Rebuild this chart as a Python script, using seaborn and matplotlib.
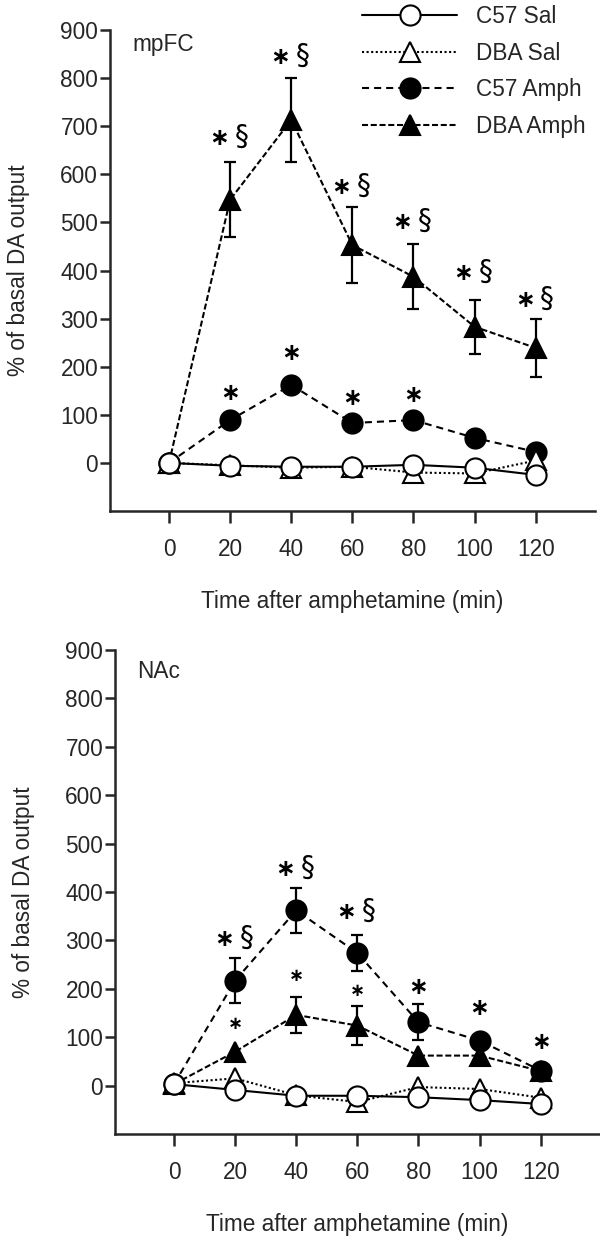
import matplotlib
matplotlib.use("Agg")
import matplotlib.pyplot as plt
import seaborn as sns

# time points (min after amphetamine)
time_min = [0, 20, 40, 60, 80, 100, 120]
groups = ["C57 Sal", "DBA Sal", "C57 Amph", "DBA Amph"]

# mpFC, % of basal DA output
pfc_c57_sal = [0, -6, -8, -8, -4, -10, -25]
pfc_dba_sal = [0, -5, -10, -8, -20, -22, 5]
pfc_c57_amph = [0, 89, 162, 83, 89, 52, 23]
pfc_dba_amph = [0, 547, 713, 453, 387, 283, 239]
pfc_c57_amph_sem = [0, 0, 0, 0, 0, 0, 0]
pfc_dba_amph_sem = [0, 78, 88, 80, 68, 56, 60]

# NAc, % of basal DA output
nac_c57_sal = [3, -9, -21, -21, -24, -30, -38]
nac_dba_sal = [5, 15, -20, -34, -3, -7, -25]
nac_c57_amph = [3, 217, 362, 274, 131, 93, 31]
nac_dba_amph = [3, 70, 146, 124, 62, 62, 30]
nac_c57_amph_sem = [0, 46, 47, 37, 37, 0, 0]
nac_dba_amph_sem = [0, 0, 38, 40, 0, 0, 0]

# significance marks (time, y position, kind)
pfc_marks_t = [20, 40, 60, 80, 100, 120, 20, 40, 60, 80]
pfc_marks_y = [676, 844, 574, 500, 395, 339, 145, 229, 135, 141]
pfc_marks_kind = ["*§"] * 6 + ["*"] * 4

nac_marks_t = [20, 40, 60, 80, 100, 120, 20, 40, 60]
nac_marks_y = [303, 448, 358, 203, 160, 91, 127, 226, 196]
nac_marks_kind = ["*§"] * 3 + ["*"] * 3 + ["s"] * 3

sns.set_style("ticks")
plt.rcParams["font.family"] = ["Liberation Sans", "DejaVu Sans"]
FS = 16.3

styles = {
    "C57 Sal": dict(linestyle="-", marker="o", markerfacecolor="white"),
    "DBA Sal": dict(linestyle=(0, (1, 1.2)), marker="^", markerfacecolor="white"),
    "C57 Amph": dict(linestyle=(0, (3.4, 2.4)), marker="o", markerfacecolor="black"),
    "DBA Amph": dict(linestyle=(0, (2.9, 1.3)), marker="^", markerfacecolor="black"),
}
draw_order = ["DBA Amph", "C57 Amph", "DBA Sal", "C57 Sal"]


def mark(ax, t, y, kind):
    kw = dict(textcoords="offset points", ha="center", va="center",
              family="DejaVu Sans", color="black")
    if kind == "*§":
        ax.annotate("∗", (t, y), xytext=(-8, 0), fontsize=17, fontweight="bold", **kw)
        ax.annotate("§", (t, y), xytext=(8, 1), fontsize=20, **kw)
    elif kind == "*":
        ax.annotate("∗", (t, y), xytext=(0, 0), fontsize=17, fontweight="bold", **kw)
    else:
        ax.annotate("∗", (t, y), xytext=(0, 0), fontsize=13, fontweight="bold", **kw)


def draw_panel(ax, series, sems, marks, title, title_y):
    for name in draw_order:
        sem = sems.get(name)
        if sem is not None:
            xs = [t for t, e in zip(time_min, sem) if e > 0]
            ys = [v for v, e in zip(series[name], sem) if e > 0]
            es = [e for e in sem if e > 0]
            ax.errorbar(xs, ys, yerr=es, fmt="none", ecolor="black",
                        elinewidth=1.6, capsize=4.6, capthick=1.6, zorder=2)
        sns.lineplot(x=time_min, y=series[name], ax=ax, color="black",
                     linewidth=1.5, markersize=14.5, markeredgecolor="black",
                     markeredgewidth=1.5, label=name, zorder=3, **styles[name])
    if ax.get_legend() is not None:
        ax.get_legend().remove()
    for t, y, k in zip(*marks):
        mark(ax, t, y, k)

    ax.set_xlim(-19.3, 139.4)
    ax.set_ylim(-100, 900)
    ax.set_xticks(time_min)
    ax.set_yticks(range(0, 901, 100))
    ax.tick_params(axis="y", length=7, width=1.8, pad=1.5, labelsize=FS)
    ax.tick_params(axis="x", length=8.5, width=1.8, pad=11, labelsize=FS)
    for s in ["top", "right"]:
        ax.spines[s].set_visible(False)
    for s in ["left", "bottom"]:
        ax.spines[s].set_linewidth(1.8)
    ax.set_xlabel("Time after amphetamine (min)", fontsize=FS, labelpad=21)
    ax.set_ylabel("% of basal DA output", fontsize=FS, labelpad=22)
    ax.text(-12, title_y, title, fontsize=FS, ha="left", va="center")


fig = plt.figure(figsize=(6, 12.4), dpi=100)
ax1 = fig.add_axes([110 / 600, 1 - 511 / 1240, 485 / 600, 481 / 1240])
ax2 = fig.add_axes([115 / 600, 1 - 1134 / 1240, 485 / 600, 484 / 1240])

draw_panel(ax1,
           {"C57 Sal": pfc_c57_sal, "DBA Sal": pfc_dba_sal,
            "C57 Amph": pfc_c57_amph, "DBA Amph": pfc_dba_amph},
           {"C57 Amph": pfc_c57_amph_sem, "DBA Amph": pfc_dba_amph_sem},
           (pfc_marks_t, pfc_marks_y, pfc_marks_kind), "mpFC", 869)
draw_panel(ax2,
           {"C57 Sal": nac_c57_sal, "DBA Sal": nac_dba_sal,
            "C57 Amph": nac_c57_amph, "DBA Amph": nac_dba_amph},
           {"C57 Amph": nac_c57_amph_sem, "DBA Amph": nac_dba_amph_sem},
           (nac_marks_t, nac_marks_y, nac_marks_kind), "NAc", 855)

handles, labels = ax1.get_legend_handles_labels()
lookup = dict(zip(labels, handles))
fig.legend([lookup[g] for g in groups], groups, loc="upper left",
           bbox_to_anchor=(362 / 600, 1 - 5 / 1240), frameon=False,
           fontsize=FS, handlelength=4.2, handletextpad=0.85,
           labelspacing=0.6, borderpad=0, borderaxespad=0, numpoints=1)

fig.savefig("out.png", dpi=100)
